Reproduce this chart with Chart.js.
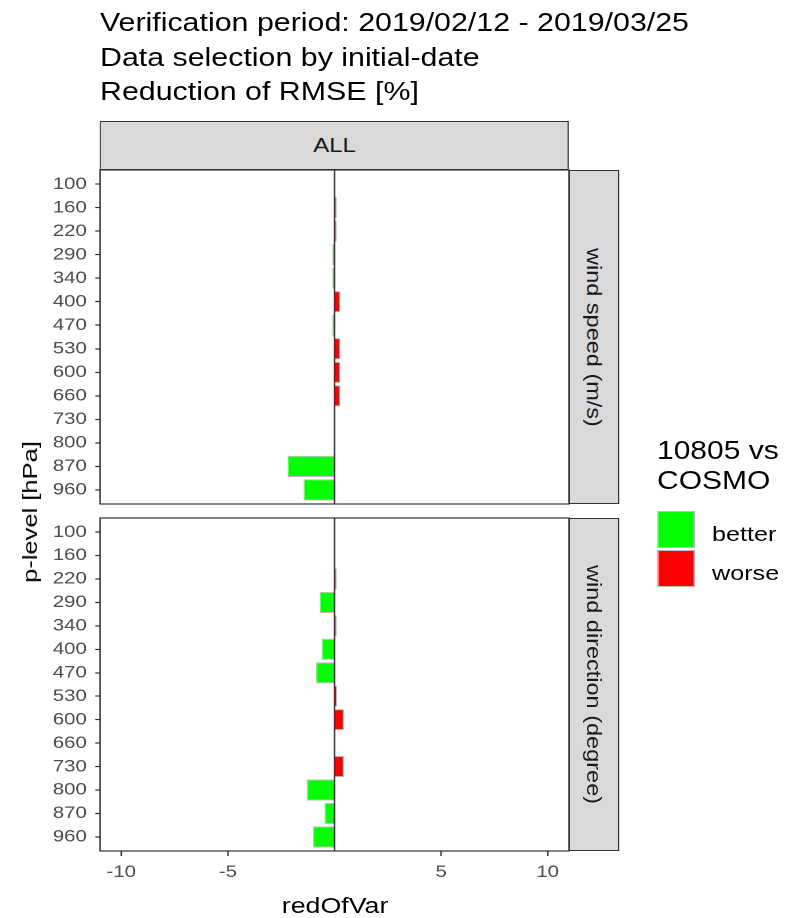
<!DOCTYPE html>
<html>
<head>
<meta charset="utf-8">
<script src="https://cdn.jsdelivr.net/npm/chart.js@4"></script>
<style>
  html, body { margin: 0; padding: 0; background: #fff; }
  body { width: 801px; height: 918px; overflow: hidden; font-family: 'Liberation Sans', Arial, sans-serif; }
  /* the reference is stretched sideways, so the whole stage is drawn narrow and widened */
  #stage { position: absolute; left: 0; top: 0; width: 667.5px; height: 918px; transform: scaleX(1.2); transform-origin: 0 0; }
  .abs { position: absolute; white-space: nowrap; }
  .box { position: absolute; }
  .box canvas { display: block; }
  .strip { position: absolute; box-sizing: border-box; background: #d9d9d9; border: 1.2px solid #333; color: #1a1a1a; font-size: 20px; display: flex; align-items: center; justify-content: center; }
  .strip.side span { writing-mode: vertical-rl; font-size: 23.5px; transform: scaleX(0.69); white-space: nowrap; }
  .key { position: absolute; box-sizing: border-box; border: 1.2px solid #bebebe; }
</style>
</head>
<body>
<div id="stage">
  <div class="abs" style="left:83.3px; top:4.9px; font-size:25.3px; line-height:34.7px; color:#000;">
    Verification period: 2019/02/12 - 2019/03/25<br>Data selection by initial-date<br>Reduction of RMSE [%]
  </div>

  <div class="box" style="left:0; top:160px;"><canvas id="panelTop" width="480" height="355"></canvas></div>
  <div class="box" style="left:0; top:508px;"><canvas id="panelBottom" width="480" height="380"></canvas></div>

  <div class="strip" style="left:83.3px; top:121px; width:390.9px; height:49px;">ALL</div>
  <div class="strip side" style="left:474.2px; top:170px; width:41.6px; height:334px;"><span>wind speed (m/s)</span></div>
  <div class="strip side" style="left:474.2px; top:518px; width:41.6px; height:333px;"><span>wind direction (degree)</span></div>

  <div class="abs" style="left:179.2px; top:895px; width:200px; text-align:center; font-size:22.3px; line-height:21.5px;">redOfVar</div>
  <div class="abs" style="left:25px; top:512px; transform:translate(-50%,-50%) scaleX(0.69) rotate(180deg); writing-mode:vertical-rl; font-size:25.5px;">p-level [hPa]</div>

  <!-- legend -->
  <div class="abs" style="left:547.5px; top:436.3px; font-size:25px; line-height:29.5px;">10805 vs<br>COSMO</div>
  <div class="key" style="left:547.5px; top:511px; width:31.7px; height:37px; background:#00ff00;"></div>
  <div class="key" style="left:547.5px; top:550px; width:31.7px; height:37px; background:#ff0000;"></div>
  <div class="abs" style="left:593.3px; top:522.5px; font-size:21px; line-height:21px;">better</div>
  <div class="abs" style="left:593.3px; top:562px; font-size:21px; line-height:21px;">worse</div>
</div>

<script>
// pressure levels, top to bottom
const levels = ['100', '160', '220', '290', '340', '400', '470', '530', '600', '660', '730', '800', '870', '960'];
const xTicks = [-10, -5, 5, 10];

// redOfVar per level
const windSpeed     = [0, 0.1, 0.1, -0.1, -0.1, 0.28, -0.1, 0.28, 0.28, 0.28, 0, 0, -2.2, -1.45];
const windDirection = [0, 0, 0.1, -0.7, 0.1, -0.6, -0.86, 0.13, 0.45, 0, 0.45, -1.3, -0.47, -1.0];

const BETTER = '#00ff00';
const WORSE  = '#ff0000';

Chart.defaults.font.family = "'Liberation Sans', Arial, sans-serif";

// panel border + zero line
const panelFrame = {
    id: 'panelFrame',
    afterDatasetsDraw(chart) {
        const { ctx, chartArea: a, scales } = chart;
        const x0 = scales.x.getPixelForValue(0);
        ctx.save();
        ctx.strokeStyle = '#333';
        ctx.lineWidth = 1.2;
        ctx.beginPath();
        ctx.moveTo(x0, a.top);
        ctx.lineTo(x0, a.bottom);
        ctx.stroke();
        ctx.strokeRect(a.left, a.top, a.right - a.left, a.bottom - a.top);
        ctx.restore();
    }
};

function makePanel(id, values, showX) {
    return new Chart(document.getElementById(id), {
        type: 'bar',
        data: {
            datasets: [{
                data: values.map((v, i) => ({ x: v, y: i })),
                backgroundColor: values.map(v => v > 0 ? WORSE : BETTER),
                borderColor: '#bebebe',
                borderWidth: 1,
                barPercentage: 0.9,
                categoryPercentage: 1
            }]
        },
        options: {
            indexAxis: 'y',
            responsive: false,
            animation: false,
            devicePixelRatio: 2,
            layout: { padding: { top: 10, right: 5.8, bottom: showX ? 0 : 11, left: 0 } },
            plugins: { legend: { display: false }, tooltip: { enabled: false } },
            scales: {
                x: {
                    type: 'linear', min: -11, max: 11, display: showX,
                    afterBuildTicks: s => { s.ticks = xTicks.map(v => ({ value: v })); },
                    afterFit: s => { if (showX) s.height = 37; },
                    grid: { drawOnChartArea: false, drawTicks: true, tickLength: 5, tickColor: '#333', tickWidth: 1.2 },
                    border: { display: false },
                    ticks: { color: '#4d4d4d', font: { size: 17 }, padding: 6, maxRotation: 0, autoSkip: false, callback: v => String(v) }
                },
                y: {
                    type: 'linear', min: -0.6, max: 13.6, reverse: true, offset: false,
                    afterBuildTicks: s => { s.ticks = levels.map((l, i) => ({ value: i })); },
                    afterFit: s => { s.width = 83.33; s.paddingTop = 0; s.paddingBottom = 0; },
                    grid: { offset: false, drawOnChartArea: false, drawTicks: true, tickLength: 4, tickColor: '#333', tickWidth: 1.2 },
                    border: { display: false },
                    ticks: { color: '#4d4d4d', font: { size: 17 }, padding: 7, autoSkip: false, callback: v => levels[v] }
                }
            }
        },
        plugins: [panelFrame]
    });
}

makePanel('panelTop', windSpeed, false);
makePanel('panelBottom', windDirection, true);
</script>
</body>
</html>
